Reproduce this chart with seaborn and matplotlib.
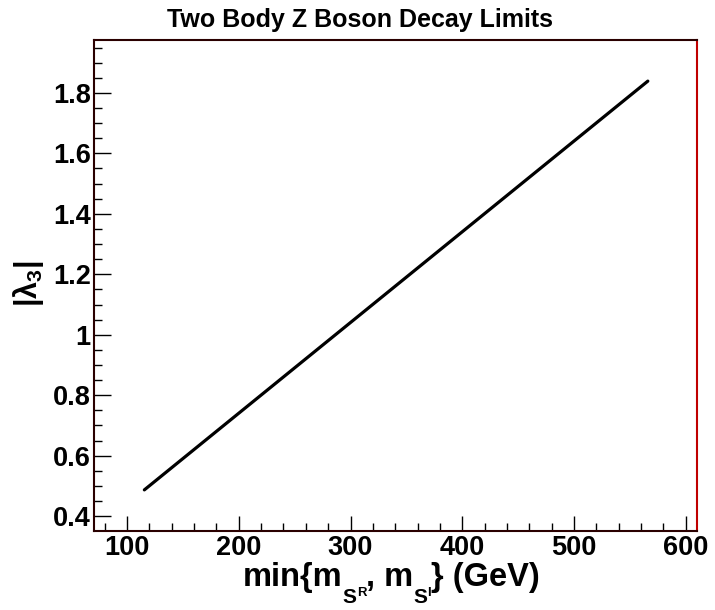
import matplotlib
matplotlib.use("Agg")
import matplotlib.pyplot as plt
import seaborn as sns
import pandas as pd
from matplotlib.ticker import MultipleLocator
from matplotlib.transforms import IdentityTransform

# Data
mass_gev = [115.5, 566.0]
lambda3 = [0.487, 1.839]

title = "Two Body Z Boson Decay Limits"
ylabel = r"$|\lambda_{3}|$"
yticks = [0.4, 0.6, 0.8, 1.0, 1.2, 1.4, 1.6, 1.8]
ytick_labels = ["0.4", "0.6", "0.8", "1", "1.2", "1.4", "1.6", "1.8"]
# x label pieces: (text, role) ; role: main / sub / sup
xlabel_pieces = [("min{m", "main"), ("S", "sub"), ("R", "sup"), (", m", "main"),
                 ("S", "sub"), ("I", "sup"), ("} (GeV)", "main")]

sns.set_style("white")
plt.rcParams["font.family"] = ["Liberation Sans", "DejaVu Sans"]
plt.rcParams["font.weight"] = "bold"
plt.rcParams["text.color"] = "black"
plt.rcParams["axes.labelcolor"] = "black"
plt.rcParams["xtick.color"] = "black"
plt.rcParams["ytick.color"] = "black"
plt.rcParams["mathtext.fontset"] = "custom"
plt.rcParams["mathtext.rm"] = "Liberation Sans:bold"
plt.rcParams["mathtext.it"] = "Liberation Sans:bold"
plt.rcParams["mathtext.bf"] = "Liberation Sans:bold"

df = pd.DataFrame({"m": mass_gev, "lam": lambda3})

fig = plt.figure(figsize=(7.15, 6.10), dpi=100)
W, H = 715, 610
ax = fig.add_axes([93.5 / W, 1 - 531 / H, (697 - 93.5) / W, (531 - 40) / H])

sns.lineplot(data=df, x="m", y="lam", ax=ax, color="black", lw=2.3)

ax.set_xlim(70, 610)
ax.set_ylim(0.351, 1.975)
ax.xaxis.set_major_locator(MultipleLocator(100))
ax.xaxis.set_minor_locator(MultipleLocator(20))
ax.yaxis.set_minor_locator(MultipleLocator(0.05))
ax.set_yticks(yticks)
ax.set_yticklabels(ytick_labels)

ax.tick_params(axis="x", which="major", direction="in", length=11, width=1,
               labelsize=19.5, pad=3, top=False, bottom=True, colors="black")
ax.tick_params(axis="x", which="minor", direction="in", length=5.5, width=1,
               top=False, bottom=True, colors="black")
ax.tick_params(axis="y", which="major", direction="in", length=12, width=1,
               labelsize=19.5, pad=2, left=True, right=False, colors="black")
ax.tick_params(axis="y", which="minor", direction="in", length=6, width=1,
               left=True, right=False, colors="black")
for lab in ax.get_xticklabels() + ax.get_yticklabels():
    lab.set_fontweight("bold")

for side in ["left", "top", "bottom"]:
    ax.spines[side].set_color("#2a0000")
    ax.spines[side].set_linewidth(1.5)
ax.spines["right"].set_color("#c00000")
ax.spines["right"].set_linewidth(1.5)

ax.set_xlabel("")
ax.set_ylabel("")

ident = IdentityTransform()
fig.text(360, H - 27, title, ha="center", va="baseline",
         fontsize=18, fontweight="bold", transform=ident)

# x-axis title built piece by piece (ROOT-style low subscripts)
renderer = fig.canvas.get_renderer()
sizes = {"main": 23.5, "sub": 15, "sup": 9.5}
baselines = {"main": H - 586, "sub": H - 603, "sup": H - 596}
x = 243
for txt, role in xlabel_pieces:
    t = fig.text(x, baselines[role], txt, ha="left", va="baseline",
                 fontsize=sizes[role], fontweight="bold", transform=ident)
    bb = t.get_window_extent(renderer)
    x += bb.width

fig.text(29, H - 284, ylabel, ha="center", va="center",
         rotation=90, fontsize=22, fontweight="bold", transform=ident)

fig.savefig("out.png", dpi=100)
